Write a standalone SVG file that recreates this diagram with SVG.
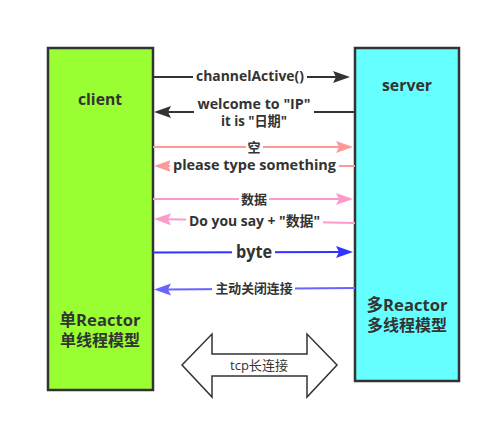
<svg xmlns="http://www.w3.org/2000/svg" width="491" height="428" viewBox="0 0 491 428">
<style>
.box{stroke:#333;stroke-width:2.5}
.t{font-family:"Open Sans","Noto Sans CJK SC",sans-serif;font-weight:bold;fill:#333;text-anchor:middle}
.lbl{font-size:13.5px}
.bg{fill:#fff}
.ln{fill:none;stroke-width:2}
</style>
<defs>
<marker id="mDark" markerUnits="userSpaceOnUse" markerWidth="18" markerHeight="12" refX="3" refY="6" orient="auto" overflow="visible"><path d="M0,0 L17,6 L0,12 L3,6 z" fill="#333"/></marker>
<marker id="mSalmon" markerUnits="userSpaceOnUse" markerWidth="18" markerHeight="12" refX="3" refY="6" orient="auto" overflow="visible"><path d="M0,0 L17,6 L0,12 L3,6 z" fill="#ff9999"/></marker>
<marker id="mPink" markerUnits="userSpaceOnUse" markerWidth="18" markerHeight="12" refX="3" refY="6" orient="auto" overflow="visible"><path d="M0,0 L17,6 L0,12 L3,6 z" fill="#ff99cc"/></marker>
<marker id="mBlue" markerUnits="userSpaceOnUse" markerWidth="18" markerHeight="12" refX="3" refY="6" orient="auto" overflow="visible"><path d="M0,0 L17,6 L0,12 L3,6 z" fill="#3333ff"/></marker>
<marker id="mViolet" markerUnits="userSpaceOnUse" markerWidth="18" markerHeight="12" refX="3" refY="6" orient="auto" overflow="visible"><path d="M0,0 L17,6 L0,12 L3,6 z" fill="#6666ff"/></marker>
</defs>
<rect width="491" height="428" fill="#fff"/>
<g id="client">
<rect class="box" x="48" y="48" width="105" height="342" fill="#99ff33"/>
<text class="t" x="100" y="105" font-size="16" textLength="44" lengthAdjust="spacingAndGlyphs">client</text>
<text class="t" x="100" y="325.5" font-size="16.5" textLength="81" lengthAdjust="spacingAndGlyphs">单Reactor</text>
<text class="t" x="100" y="346" font-size="16" textLength="80" lengthAdjust="spacingAndGlyphs">单线程模型</text>
</g>
<g id="server">
<rect class="box" x="355" y="48" width="104" height="333" fill="#66ffff"/>
<text class="t" x="407" y="91" font-size="16" textLength="50" lengthAdjust="spacingAndGlyphs">server</text>
<text class="t" x="407" y="311" font-size="16.5" textLength="81" lengthAdjust="spacingAndGlyphs">多Reactor</text>
<text class="t" x="407" y="331" font-size="16" textLength="80" lengthAdjust="spacingAndGlyphs">多线程模型</text>
</g>
<g id="tcp">
<polygon points="182,365 212,334 212,354 307,354 307,334 337,365 307,397 307,376 212,376 212,397" fill="#fff" stroke="#333" stroke-width="1.5"/>
<text x="259" y="370" font-family="Open Sans,Noto Sans CJK SC,sans-serif" font-size="13" fill="#333" text-anchor="middle" textLength="58" lengthAdjust="spacingAndGlyphs">tcp长连接</text>
</g>
<g id="connectors">
<line class="ln" x1="153" y1="77" x2="336" y2="77" stroke="#333" marker-end="url(#mDark)"/>
<line class="ln" x1="355" y1="112" x2="168" y2="112" stroke="#333" marker-end="url(#mDark)"/>
<line class="ln" x1="153" y1="147" x2="339" y2="147" stroke="#ff9999" marker-end="url(#mSalmon)"/>
<line class="ln" x1="355" y1="166" x2="168" y2="166" stroke="#ff9999" marker-end="url(#mSalmon)"/>
<line class="ln" x1="153" y1="199" x2="339" y2="199" stroke="#ff99cc" marker-end="url(#mPink)"/>
<line class="ln" x1="355" y1="223" x2="168" y2="219.3" stroke="#ff99cc" marker-end="url(#mPink)"/>
<line class="ln" x1="153" y1="252.5" x2="339" y2="252" stroke="#3333ff" marker-end="url(#mBlue)"/>
<line class="ln" x1="355" y1="288" x2="168" y2="289.4" stroke="#6666ff" marker-end="url(#mViolet)"/>
<rect class="bg" x="193" y="68" width="114" height="17"/>
<text class="t lbl" x="250" y="81" textLength="108" lengthAdjust="spacingAndGlyphs">channelActive()</text>
<rect class="bg" x="194" y="97" width="120" height="31"/>
<text class="t lbl" x="254" y="109" textLength="113" lengthAdjust="spacingAndGlyphs">welcome to "IP"</text>
<text class="t lbl" x="254" y="126" textLength="66" lengthAdjust="spacingAndGlyphs">it is "日期"</text>
<rect class="bg" x="246" y="142" width="17" height="12"/>
<text class="t" font-size="13" x="254" y="152">空</text>
<rect class="bg" x="170" y="158" width="169" height="16"/>
<text class="t lbl" x="254.5" y="170" textLength="163" lengthAdjust="spacingAndGlyphs">please type something</text>
<rect class="bg" x="239" y="194" width="30" height="12"/>
<text class="t" font-size="13" x="254" y="204">数据</text>
<rect class="bg" x="186" y="212" width="137" height="17"/>
<text class="t lbl" x="254.5" y="226" textLength="131" lengthAdjust="spacingAndGlyphs">Do you say + "数据"</text>
<rect class="bg" x="232" y="243" width="43" height="17"/>
<text class="t" x="254" y="258" font-size="17" textLength="36" lengthAdjust="spacingAndGlyphs">byte</text>
<rect class="bg" x="212" y="281" width="83" height="15"/>
<text class="t" font-size="13" x="254" y="293" textLength="77" lengthAdjust="spacingAndGlyphs">主动关闭连接</text>
</g>
</svg>
